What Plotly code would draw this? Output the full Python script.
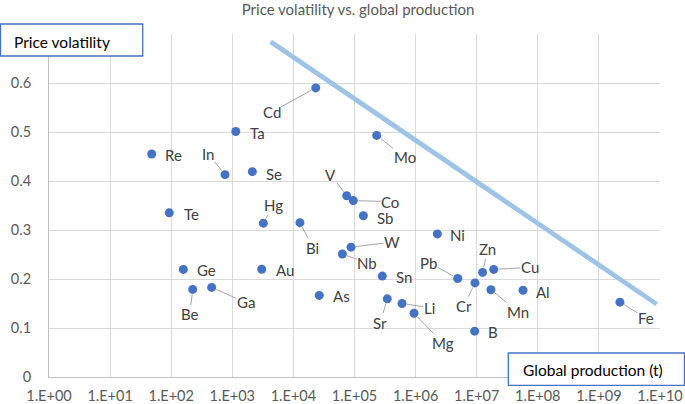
import math
import plotly.graph_objects as go

# ---- data ----
elements = ["Re", "Te", "In", "Ta", "Se", "Cd", "Hg", "Au", "Bi", "As", "V", "Co",
            "W", "Nb", "Sb", "Mo", "Sn", "Sr", "Li", "Mg", "Ni", "Pb", "Cr", "B",
            "Zn", "Cu", "Mn", "Al", "Fe", "Ge", "Be", "Ga"]
production = [48, 93, 760, 1140, 2130, 23200, 3220, 3030, 12800, 26500, 74500, 95700,
              87700, 63300, 139700, 230700, 285000, 344000, 600000, 942000, 2270000,
              4890000, 9380000, 9270000, 12500000, 19000000, 17100000, 57300000,
              2210000000, 158, 225, 460]
volatility = [0.455, 0.335, 0.413, 0.501, 0.419, 0.590, 0.314, 0.220, 0.315, 0.1665,
              0.370, 0.360, 0.265, 0.251, 0.329, 0.493, 0.206, 0.1595, 0.150, 0.130,
              0.292, 0.201, 0.192, 0.0935, 0.2135, 0.2196, 0.178, 0.177, 0.1528,
              0.2196, 0.1787, 0.1828]
frontier_x = [4250, 8.8e9]
frontier_y = [0.684, 0.1487]
x_tickvals = [10 ** k for k in range(11)]
x_ticktext = ["1.E+%02d" % k for k in range(11)]
y_tickvals = [0, 0.1, 0.2, 0.3, 0.4, 0.5, 0.6, 0.7]
y_ticktext = ["0", "0.1", "0.2", "0.3", "0.4", "0.5", "0.6", ""]

# ---- label placement (pixel offsets of label centre from point, leader flag) ----
label_style = {
    "Re": (22, 1, False), "Te": (22, 1, False), "Ta": (22, 1, False), "Se": (22, 2, False),
    "Sb": (22, 2, False), "Ni": (20, 1, False), "Ge": (23, 1, False), "Au": (23, 1, False),
    "Sn": (22, 1, False), "As": (22, 1, False), "Al": (20, 2, False), "B": (18, 1, False),
    "In": (-17, -21, True), "Cd": (-44, 24, True), "Mo": (28, 22, True), "V": (-16, -21, True),
    "Co": (37, 1, True), "Hg": (10, -18, True), "Bi": (13, 25, True), "W": (41, -5, True),
    "Nb": (25, 9, True), "Pb": (-29, -16, True), "Zn": (5, -23, True), "Cu": (36, -2, True),
    "Cr": (-11, 23, True), "Mn": (27, 22, True), "Fe": (26, 16, True), "Li": (27, 4, True),
    "Mg": (29, 30, True), "Be": (-3, 25, True), "Ga": (34, 15, True), "Sr": (-7, 24, True),
}

FONT = "Lato"
LABEL_COLOR = "#404040"
TICK_COLOR = "#595959"

fig = go.Figure()
fig.add_trace(go.Scatter(x=frontier_x, y=frontier_y, mode="lines",
                         line=dict(color="#9DC3E6", width=4.8), hoverinfo="skip"))
fig.add_trace(go.Scatter(x=production, y=volatility, mode="markers",
                         marker=dict(color="#4472C4", size=9), text=elements))

annotations = []
for el, px, vy in zip(elements, production, volatility):
    dx, dy, leader = label_style[el]
    lx = math.log10(px)
    if leader:
        annotations.append(dict(x=lx, y=vy, xref="x", yref="y", text=el,
                                showarrow=True, arrowhead=0, arrowwidth=1,
                                arrowcolor="#A6A6A6", ax=dx, ay=dy, standoff=5,
                                borderpad=0,
                                font=dict(family=FONT, size=15, color=LABEL_COLOR)))
    else:
        annotations.append(dict(x=lx, y=vy, xref="x", yref="y", text=el,
                                showarrow=False, xanchor="center", yanchor="middle",
                                xshift=dx, yshift=-dy, borderpad=0,
                                font=dict(family=FONT, size=15, color=LABEL_COLOR)))

# plot area in pixels: x 49..660, y 34..376.7
L, R, T, B = 49, 660, 34, 376.7
W, H = R - L, B - T


def px_x(p):
    return (p - L) / W


def px_y(p):
    return (B - p) / H


shapes = [
    dict(type="rect", xref="paper", yref="paper", x0=px_x(0.5), x1=px_x(142.7),
         y0=px_y(56), y1=px_y(24), fillcolor="white", line=dict(color="#4472C4", width=1.3),
         layer="above"),
    dict(type="rect", xref="paper", yref="paper", x0=px_x(508.3), x1=px_x(684.5),
         y0=px_y(385), y1=px_y(352.7), fillcolor="white", line=dict(color="#4472C4", width=1.3),
         layer="above"),
]
annotations.append(dict(xref="paper", yref="paper", x=px_x(12), y=px_y(41.5),
                        xanchor="left", yanchor="middle", showarrow=False,
                        text="Price volatility",
                        font=dict(family=FONT, size=15.5, color="#000000")))
annotations.append(dict(xref="paper", yref="paper", x=px_x(520.5), y=px_y(369.5),
                        xanchor="left", yanchor="middle", showarrow=False,
                        text="Global production (t)",
                        font=dict(family=FONT, size=15.5, color="#000000")))

fig.update_layout(
    width=685, height=404,
    margin=dict(l=L, r=685 - R, t=T, b=404 - B, autoexpand=False),
    paper_bgcolor="white", plot_bgcolor="white",
    showlegend=False,
    title=dict(text="Price volatility vs. global production", x=358 / 685, xref="container",
               xanchor="center", y=1 - 10 / 404, yanchor="middle",
               font=dict(family=FONT, size=15, color=TICK_COLOR)),
    xaxis=dict(type="log", range=[0, 10], tickvals=x_tickvals, ticktext=x_ticktext,
               showgrid=True, gridcolor="#D9D9D9", gridwidth=1,
               showline=True, linecolor="#BFBFBF", linewidth=1, zeroline=False,
               ticks="outside", ticklen=6, tickcolor="rgba(0,0,0,0)",
               tickfont=dict(family=FONT, size=14.5, color=TICK_COLOR)),
    yaxis=dict(range=[0, 0.7], tickvals=y_tickvals, ticktext=y_ticktext,
               showgrid=True, gridcolor="#D9D9D9", gridwidth=1,
               showline=True, linecolor="#BFBFBF", linewidth=1, zeroline=False,
               ticks="outside", ticklen=14, tickcolor="rgba(0,0,0,0)",
               tickfont=dict(family=FONT, size=14.5, color=TICK_COLOR)),
    annotations=annotations,
    shapes=shapes,
)

fig.write_html("out.html", config={"displayModeBar": False},
               post_script="document.body.style.margin='0';document.body.style.padding='0';")
